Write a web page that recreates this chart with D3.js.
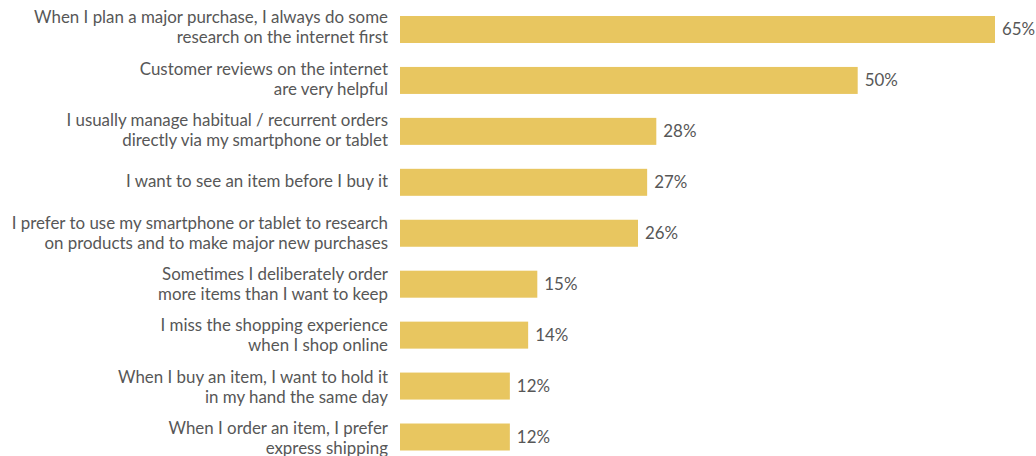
<!DOCTYPE html>
<html><head><meta charset="utf-8">
<script src="https://cdn.jsdelivr.net/npm/d3@7"></script>
<style>body{margin:0;background:#fff}svg{display:block}</style>
</head><body>
<svg id="c" width="1036" height="456"></svg>
<script>
const labels = [
  ["When I plan a major purchase, I always do some", "research on the internet first"],
  ["Customer reviews on the internet", "are very helpful"],
  ["I usually manage habitual / recurrent orders", "directly via my smartphone or tablet"],
  ["I want to see an item before I buy it"],
  ["I prefer to use my smartphone or tablet to research", "on products and to make major new purchases"],
  ["Sometimes I deliberately order", "more items than I want to keep"],
  ["I miss the shopping experience", "when I shop online"],
  ["When I buy an item, I want to hold it", "in my hand the same day"],
  ["When I order an item, I prefer", "express shipping"]
];
const values = [65, 50, 28, 27, 26, 15, 14, 12, 12];

const svg = d3.select("#c");
const idx = d3.range(values.length);
const x = d3.scaleLinear().domain([0, 65]).range([400, 995]);
const y = d3.scaleBand().domain(idx).range([16, 450.5]).paddingInner(0.47).paddingOuter(0);
const font = "Lato, 'Source Sans Pro', sans-serif";
const fs = 16.9;

svg.selectAll("rect.bar").data(idx).join("rect")
  .attr("x", x(0))
  .attr("y", i => y(i))
  .attr("width", i => x(values[i]) - x(0))
  .attr("height", y.bandwidth())
  .attr("fill", "#E8C660");

svg.selectAll("text.val").data(idx).join("text")
  .attr("x", i => x(values[i]) + 7)
  .attr("y", i => y(i) + y.bandwidth()/2 + 6)
  .attr("font-family", font).attr("font-size", fs)
  .attr("fill", "#575757")
  .text(i => values[i] + "%");

const lab = svg.selectAll("text.lab").data(idx).join("text")
  .attr("text-anchor", "end")
  .attr("font-family", font).attr("font-size", fs)
  .attr("fill", "#575757");
lab.each(function(i) {
  const lines = labels[i];
  const c = y(i) + y.bandwidth()/2;
  const off = 3.8 + 0.4 * i;
  const n = lines.length;
  d3.select(this).selectAll("tspan").data(lines).join("tspan")
    .attr("x", 388)
    .attr("y", (d, j) => n === 1 ? c + off - 0.3 : c + off + (j - (n - 1)/2) * 20)
    .text(d => d);
});
</script>
</body></html>
